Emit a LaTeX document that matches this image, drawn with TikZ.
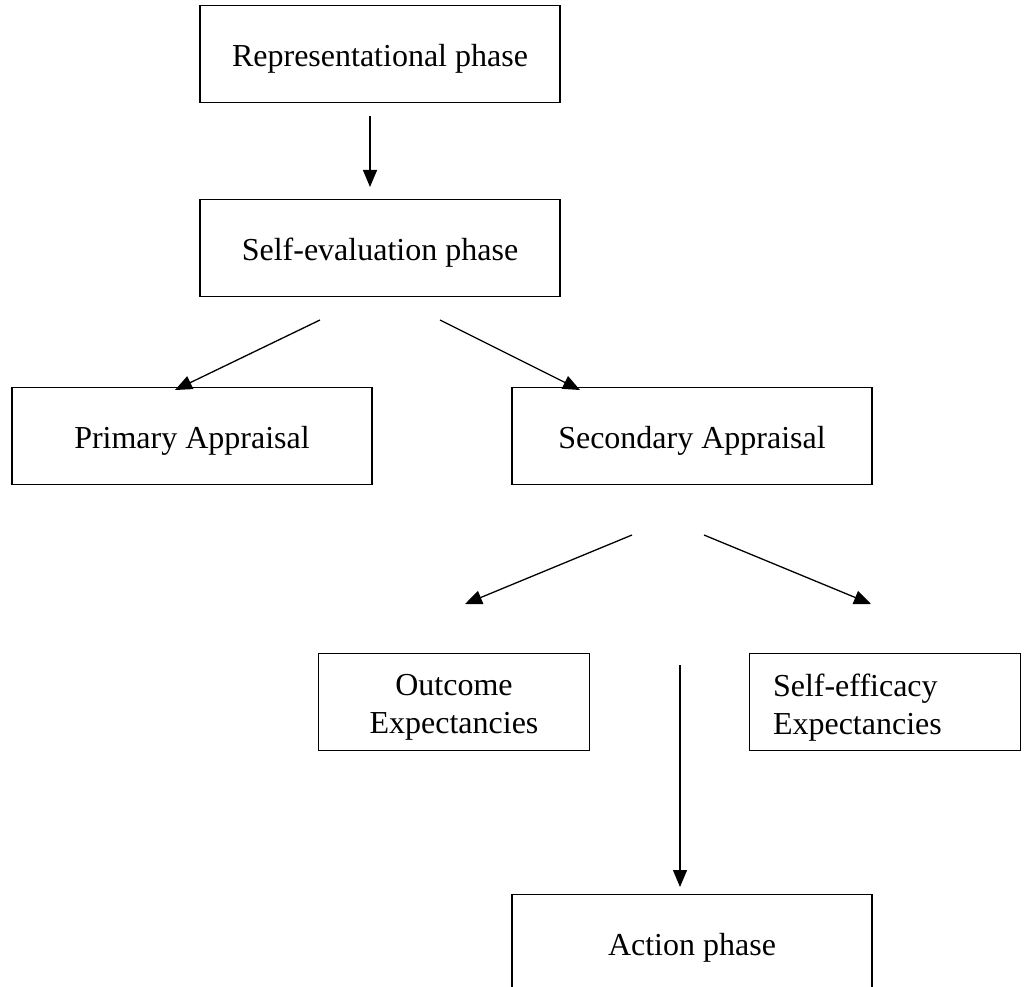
\documentclass[tikz,border=0pt]{standalone}
\usepackage{fontspec}
\setmainfont{Liberation Serif}
\usetikzlibrary{arrows.meta}
\begin{document}
\begin{tikzpicture}[x=1pt,y=-1pt,
  box/.style={draw, line width=1.4pt, minimum width=360pt, minimum height=97pt, inner sep=0pt, font=\fontsize{32}{38}\selectfont, align=center, text height=32pt, text depth=7pt},
  sbox/.style={box, minimum width=271pt, text height=70pt},
  arr/.style={line width=1.3pt, -{Triangle[length=17pt,width=14pt]}}]
\useasboundingbox (0,0) rectangle (1033,987);
\clip (0,0) rectangle (1033,987);
\fill[white] (0,0) rectangle (1033,987);
\node[box] (rep) at (380,54) {Representational phase};
\node[box] (self) at (380,248) {Self-evaluation phase};
\node[box] (prim) at (192,436) {Primary Appraisal};
\node[box] (sec) at (692,436) {Secondary Appraisal};
\node[sbox] (out) at (454,702) {Outcome\\Expectancies};
\node[sbox, align=left, text width=224pt, text height=20pt, text depth=31pt] (eff) at (885,702) {Self-efficacy\\Expectancies};
\node[box] (act) at (692,943) {Action phase};
\coordinate (a1s) at (370,116); \coordinate (a1e) at (370,187);
\coordinate (a2s) at (320,320); \coordinate (a2e) at (175,390);
\coordinate (a3s) at (440,320); \coordinate (a3e) at (580,390);
\coordinate (a4s) at (632,535); \coordinate (a4e) at (465,604);
\coordinate (a5s) at (704,535); \coordinate (a5e) at (871,604);
\coordinate (a6s) at (680,665); \coordinate (a6e) at (680,887);
\draw[arr] (a1s) -- (a1e);
\draw[arr] (a2s) -- (a2e);
\draw[arr] (a3s) -- (a3e);
\draw[arr] (a4s) -- (a4e);
\draw[arr] (a5s) -- (a5e);
\draw[arr] (a6s) -- (a6e);
\end{tikzpicture}
\end{document}
